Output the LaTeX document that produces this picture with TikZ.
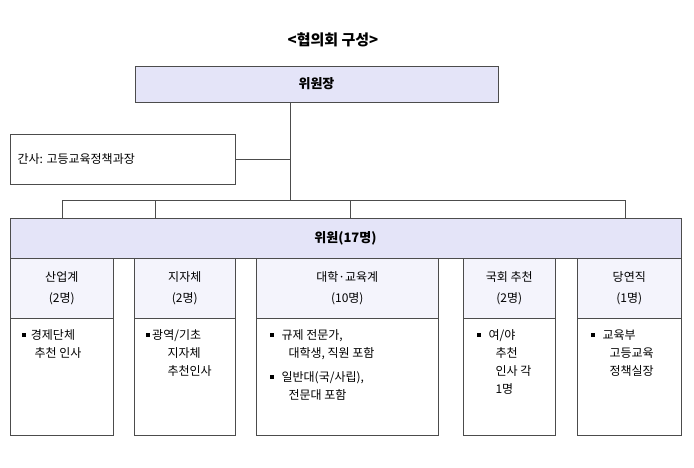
\documentclass[tikz,border=0pt]{standalone}
\usepackage{fontspec}
\setmainfont{Noto Sans CJK KR}
\usetikzlibrary{positioning}
\definecolor{headfill}{HTML}{E4E4F8}
\definecolor{colfill}{HTML}{F4F4FC}
\newcommand\sqbul{\raisebox{2.5pt}{\rule{4pt}{4pt}}}
\tikzset{
  box/.style={draw=black!70, line width=0.6pt, inner sep=0pt, align=center},
  body/.style={font=\fontsize{12}{18}\selectfont, align=left, anchor=north west},
}
\begin{document}
\begin{tikzpicture}[x=1pt,y=-1pt]
\useasboundingbox (0,0) rectangle (694,467);
\node[font=\bfseries\fontsize{15}{17}\selectfont] (title) at (333,40) {<협의회 구성>};

\node[box, fill=headfill, minimum width=363, minimum height=36, font=\bfseries\fontsize{13}{15}\selectfont] (chair) at (316.5,84) {위원장};
\node[box, minimum width=225, minimum height=50, anchor=west] (sec) at (10,159) {};
\node[font=\fontsize{12}{14}\selectfont, anchor=west] (sectext) at (sec.west) [xshift=4pt] {간사: 고등교육정책과장};
\node[box, fill=headfill, minimum width=671, minimum height=40, font=\bfseries\fontsize{13}{15}\selectfont] (mem) at (345.5,238) {위원(17명)};

\coordinate (j) at (290,200);
\draw[black!70] (chair.south -| j) -- (j);
\draw[black!70] (sec.east) -- (sec.east -| j);
\draw[black!70] (62,200) -- (625,200);
\foreach \x in {62,155,350,625}
  \draw[black!70] (\x,200) -- (\x,218);

% columns: left, right, title
\foreach \l/\r/\t/\n [count=\i] in {10/113/산업계/2명, 134/235/지자체/2명, 256/438/대학·교육계/10명, 463/555/국회 추천/2명, 577/681/당연직/1명}{
  \node[box, fill=colfill, minimum width=\r-\l, minimum height=60, font=\fontsize{12}{21}\selectfont, anchor=north west] (h\i) at (\l,258) {\t\\(\n)};
  \node[box, minimum width=\r-\l, minimum height=117, anchor=north west] (b\i) at (\l,318) {};
}
\node[body] at (b1.north west) [xshift=8pt, yshift=-8pt] {\sqbul~~경제단체\\\hspace{13pt}추천 인사};
\node[body] at (b2.north west) [xshift=8pt, yshift=-8pt] {\sqbul~광역/기초\\\hspace{22pt}지자체\\\hspace{22pt}추천인사};
\node[body] at (b3.north west) [xshift=10pt, yshift=-8pt] {\sqbul~~~규제 전문가,\\\hspace{19pt}대학생, 직원 포함\\[6pt]\sqbul~~~일반대(국/사립),\\\hspace{19pt}전문대 포함};
\node[body] at (b4.north west) [xshift=10pt, yshift=-8pt] {\sqbul~~~여/야\\\hspace{19pt}추천\\\hspace{19pt}인사 각\\\hspace{19pt}1명};
\node[body] at (b5.north west) [xshift=10pt, yshift=-8pt] {\sqbul~~~교육부\\\hspace{19pt}고등교육\\\hspace{19pt}정책실장};
\end{tikzpicture}
\end{document}
